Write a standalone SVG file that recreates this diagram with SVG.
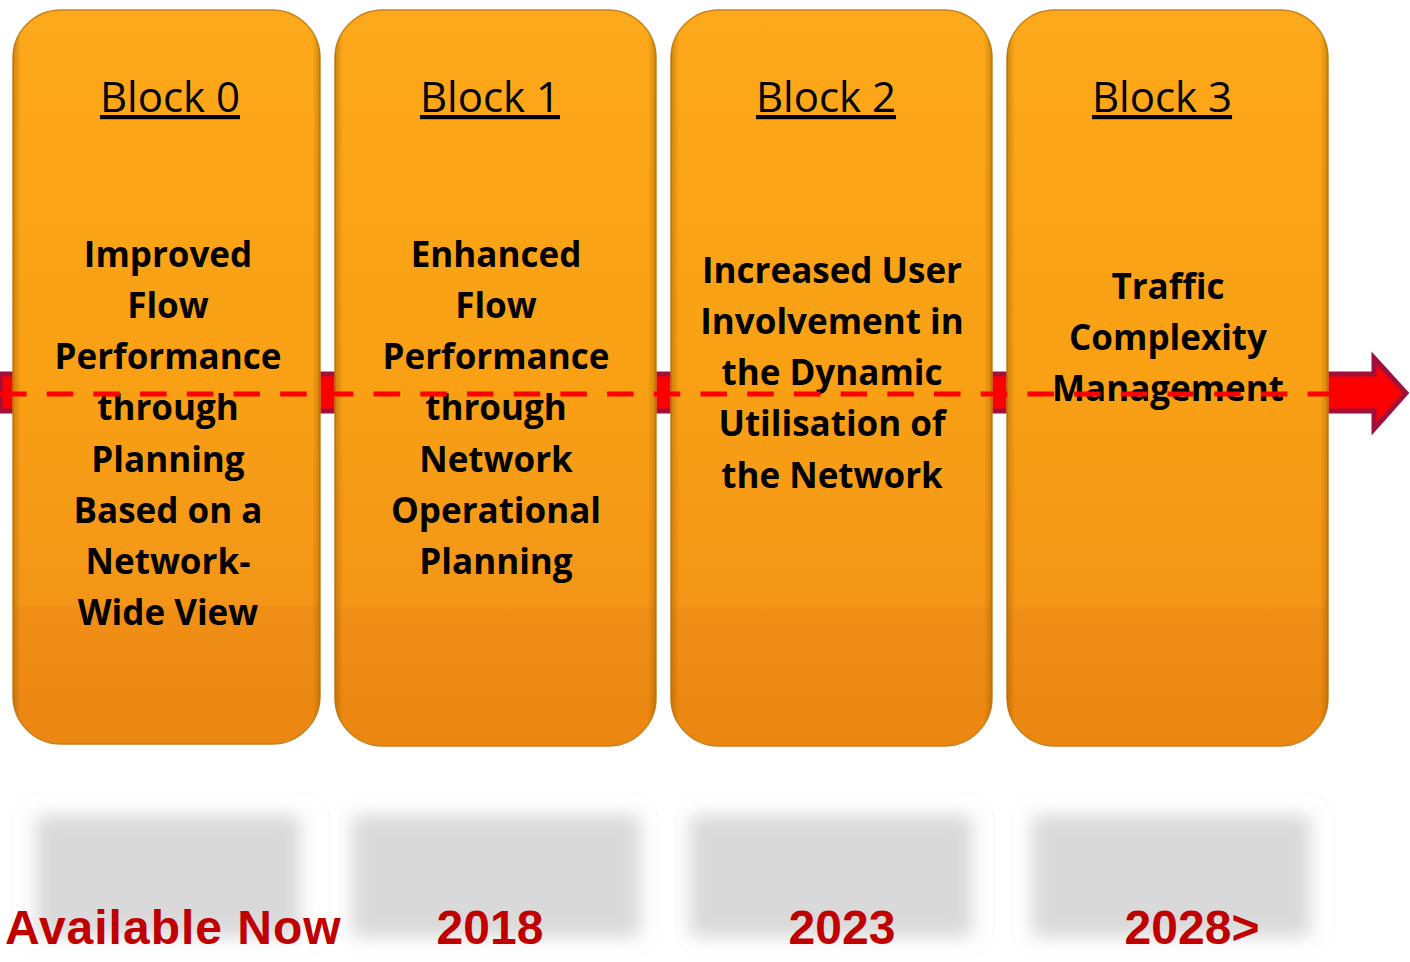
<svg xmlns="http://www.w3.org/2000/svg" width="1410" height="962" viewBox="0 0 1410 962">
<style>
.box{fill:url(#gOrange);stroke:#c8801c;stroke-width:1.5}
.bevel{fill:url(#gEdge)}
.title{font-family:"Open Sans","Liberation Sans",sans-serif;font-size:42px;fill:#000;text-anchor:middle;text-decoration:underline}
.body{font-family:"Open Sans","Liberation Sans",sans-serif;font-weight:bold;font-size:35px;fill:#000;text-anchor:middle}
.year{font-family:"Liberation Sans",Arial,sans-serif;font-weight:bold;font-size:48px;fill:#c00000}
.shadow{fill:#d9d9d9;filter:url(#blur)}
.halo{fill:none;stroke:#f2f2f2;stroke-width:1;opacity:.5}
</style>
<defs>
<linearGradient id="gOrange" x1="0" y1="0" x2="0" y2="1">
<stop offset="0" stop-color="#fca91c"/>
<stop offset="0.15" stop-color="#fca617"/>
<stop offset="0.5" stop-color="#f9a014"/>
<stop offset="0.81" stop-color="#f39618"/>
<stop offset="0.815" stop-color="#f08f15"/>
<stop offset="1" stop-color="#eb8612"/>
</linearGradient>
<linearGradient id="gEdge" x1="0" y1="0" x2="1" y2="0">
<stop offset="0" stop-color="#9a5a00" stop-opacity="0.45"/>
<stop offset="0.025" stop-color="#9a5a00" stop-opacity="0"/>
<stop offset="0.975" stop-color="#9a5a00" stop-opacity="0"/>
<stop offset="1" stop-color="#9a5a00" stop-opacity="0.45"/>
</linearGradient>
<filter id="blur" x="-20%" y="-30%" width="140%" height="160%">
<feGaussianBlur stdDeviation="9"/>
</filter>
</defs>
<rect width="1410" height="962" fill="#ffffff"/>

<g id="timeline-arrow">
<path d="M0,374 L1374,374 L1374,358 L1406,393 L1374,429 L1374,411 L0,411 Z" fill="#ff0000" stroke="#a0103a" stroke-width="5" stroke-linejoin="miter"/>
</g>

<g id="block0">
<rect class="box" x="13" y="10" width="307" height="734" rx="48"/>
<rect class="bevel" x="13" y="10" width="307" height="734" rx="48"/>
<text class="title" x="170" y="112">Block 0</text>
<text class="body" x="168"><tspan x="168" y="267">Improved</tspan><tspan x="168" y="318">Flow</tspan><tspan x="168" y="369">Performance</tspan><tspan x="168" y="420">through</tspan><tspan x="168" y="472">Planning</tspan><tspan x="168" y="523">Based on a</tspan><tspan x="168" y="574">Network-</tspan><tspan x="168" y="625">Wide View</tspan></text>
</g>

<g id="block1">
<rect class="box" x="335" y="10" width="321" height="736" rx="48"/>
<rect class="bevel" x="335" y="10" width="321" height="736" rx="48"/>
<text class="title" x="490" y="112">Block 1</text>
<text class="body"><tspan x="496" y="267">Enhanced</tspan><tspan x="496" y="318">Flow</tspan><tspan x="496" y="369">Performance</tspan><tspan x="496" y="420">through</tspan><tspan x="496" y="472">Network</tspan><tspan x="496" y="523">Operational</tspan><tspan x="496" y="574">Planning</tspan></text>
</g>

<g id="block2">
<rect class="box" x="671" y="10" width="321" height="736" rx="48"/>
<rect class="bevel" x="671" y="10" width="321" height="736" rx="48"/>
<text class="title" x="826" y="112">Block 2</text>
<text class="body"><tspan x="832" y="283">Increased User</tspan><tspan x="832" y="334">Involvement in</tspan><tspan x="832" y="385">the Dynamic</tspan><tspan x="832" y="436">Utilisation of</tspan><tspan x="832" y="488">the Network</tspan></text>
</g>

<g id="block3">
<rect class="box" x="1007" y="10" width="321" height="736" rx="48"/>
<rect class="bevel" x="1007" y="10" width="321" height="736" rx="48"/>
<text class="title" x="1162" y="112">Block 3</text>
<text class="body"><tspan x="1168" y="299">Traffic</tspan><tspan x="1168" y="350">Complexity</tspan><tspan x="1168" y="401">Management</tspan></text>
</g>

<g id="connectors">
<line x1="0" y1="394" x2="1372" y2="394" stroke="#ff0000" stroke-width="5" stroke-dasharray="26.5 20.2"/>
</g>

<g id="year-labels">
<rect class="halo" x="12" y="792" width="318" height="166" rx="30"/>
<rect class="halo" x="340" y="792" width="318" height="166" rx="30"/>
<rect class="halo" x="676" y="792" width="318" height="166" rx="30"/>
<rect class="halo" x="1012" y="792" width="322" height="166" rx="30"/>
<rect class="shadow" x="36" y="815" width="264" height="122"/>
<rect class="shadow" x="352" y="815" width="288" height="122"/>
<rect class="shadow" x="690" y="815" width="282" height="122"/>
<rect class="shadow" x="1032" y="815" width="278" height="122"/>
<text class="year" x="5" y="944" letter-spacing="1">Available Now</text>
<text class="year" x="490" y="944" text-anchor="middle">2018</text>
<text class="year" x="842" y="944" text-anchor="middle">2023</text>
<text class="year" x="1192" y="944" text-anchor="middle">2028&gt;</text>
</g>
</svg>
